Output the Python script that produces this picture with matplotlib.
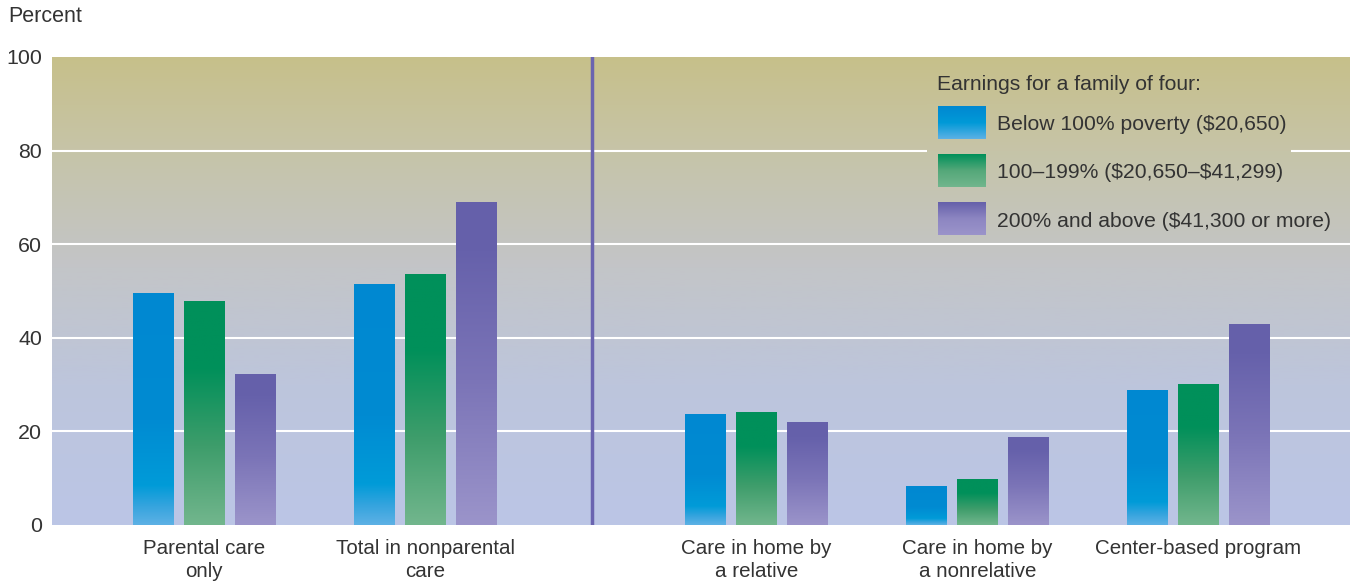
import numpy as np
import matplotlib
matplotlib.use("Agg")
import matplotlib.pyplot as plt
from matplotlib.colors import LinearSegmentedColormap
from matplotlib.patches import Rectangle

plt.rcParams['font.family'] = ['Liberation Sans', 'DejaVu Sans']

categories = ['Parental care\nonly', 'Total in nonparental\ncare',
              'Care in home by\na relative', 'Care in home by\na nonrelative',
              'Center-based program']
group_pos = [0, 1, 2.5, 3.5, 4.5]
series_names = ['Below 100% poverty ($20,650)',
                '100\u2013199% ($20,650\u2013$41,299)',
                '200% and above ($41,300 or more)']
below_poverty = [49.6, 51.5, 23.7, 8.3, 28.8]
mid_income = [47.9, 53.6, 24.1, 9.8, 30.1]
high_income = [32.3, 69.0, 22.0, 18.8, 42.9]
legend_title = 'Earnings for a family of four:'

text_color = '#333333'

# vertical gradients, listed from bottom (0) to top (1)
bar_cmaps = [
    LinearSegmentedColormap.from_list('blue', [(0, '#5db1e5'), (0.08, '#35a4de'),
                                               (0.17, '#009bd8'), (0.45, '#008bd2'),
                                               (1, '#0088d1')]),
    LinearSegmentedColormap.from_list('green', [(0, '#72b68d'), (0.35, '#3e9d6b'),
                                                (0.7, '#00905a'), (1, '#00905a')]),
    LinearSegmentedColormap.from_list('purple', [(0, '#9b94ca'), (0.45, '#7b74b7'),
                                                 (0.85, '#6661ab'), (1, '#6560aa')]),
]
bg_cmap = LinearSegmentedColormap.from_list('bg', [(0, '#bbc6e6'), (0.3, '#bdc5dc'),
                                                   (0.55, '#c3c5c8'), (0.8, '#c6c4a8'),
                                                   (1, '#c7c08a')])
grad = np.linspace(0, 1, 256).reshape(-1, 1)

fig = plt.figure(figsize=(13.57, 5.83), dpi=100)
ax = fig.add_axes([52 / 1357, 1 - 525 / 583, 1298 / 1357, 468 / 583])

xmin, xmax = -0.688, 5.186
ax.set_xlim(xmin, xmax)
ax.set_ylim(0, 100)

# background
ax.imshow(grad, cmap=bg_cmap, origin='lower', aspect='auto',
          extent=[xmin, xmax, 0, 100], zorder=0)
for y in [20, 40, 60, 80]:
    ax.axhline(y, color='white', lw=1.5, zorder=1)
# background patch behind the legend hides the gridline there
cover = Rectangle((3.27, 65), 4.914 - 3.27, 33, transform=ax.transData)
img = ax.imshow(grad, cmap=bg_cmap, origin='lower', aspect='auto',
                extent=[xmin, xmax, 0, 100], zorder=1.5)
img.set_clip_path(cover)

width = 0.1855
offset = 0.2308
x = np.array(group_pos)
for i, (vals, cmap) in enumerate(zip([below_poverty, mid_income, high_income], bar_cmaps)):
    bars = ax.bar(x + (i - 1) * offset, vals, width, color='none', zorder=2)
    for b in bars:
        x0, h = b.get_x(), b.get_height()
        im = ax.imshow(grad, cmap=cmap, origin='lower', aspect='auto',
                       extent=[x0, x0 + b.get_width(), 0, h], zorder=2)
        im.set_clip_path(b)

ax.set_xlim(xmin, xmax)
ax.set_ylim(0, 100)

# divider between totals and care types
ax.axvline(1.755, color='#6a64b0', lw=2.5, zorder=3)

for s in ax.spines.values():
    s.set_visible(False)
ax.set_yticks([0, 20, 40, 60, 80, 100])
ax.set_xticks(group_pos)
ax.set_xticklabels(categories, linespacing=1.25)
ax.tick_params(axis='both', length=0, colors=text_color)
ax.tick_params(axis='x', pad=10, labelsize=14.8)
ax.tick_params(axis='y', pad=7, labelsize=15.4)

fig.text(8 / 1357, 1 - 17 / 583, 'Percent', fontsize=15.5, color=text_color,
         ha='left', va='center')

# legend
fig.text(937 / 1357, 1 - 84 / 583, legend_title, fontsize=15.2, color=text_color,
         ha='left', va='center')
swatch_tops = [106, 154, 202]
for name, cmap, top in zip(series_names, bar_cmaps, swatch_tops):
    sw = fig.add_axes([938 / 1357, 1 - (top + 33) / 583, 48 / 1357, 33 / 583])
    sw.imshow(grad, cmap=LinearSegmentedColormap.from_list(
        'sw', [cmap(0.0), cmap(0.2), cmap(1.0)]), origin='lower', aspect='auto')
    sw.axis('off')
    fig.text(997 / 1357, 1 - (top + 19) / 583, name, fontsize=15.2, color=text_color,
             ha='left', va='center', parse_math=False)

fig.savefig('out.png', dpi=100)
